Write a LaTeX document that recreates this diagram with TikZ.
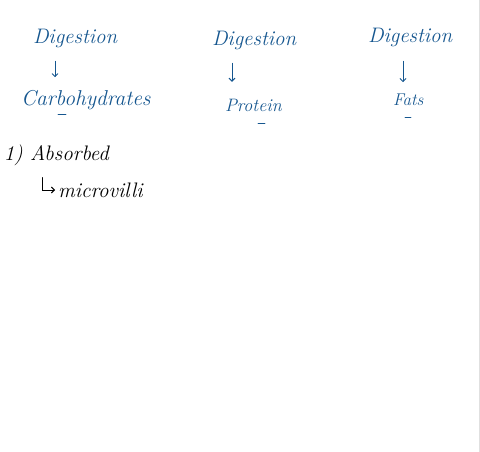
\documentclass[tikz,border=0pt]{standalone}
\usepackage{tikz}
\usetikzlibrary{arrows.meta}
\definecolor{penblue}{HTML}{15568F}
\tikzstyle{note}=[inner sep=0, outer sep=0, anchor=west, font=\fontsize{21}{24}\selectfont\itshape]
\tikzstyle{bluenote}=[note, text=penblue, font=\fontsize{21}{25}\selectfont\itshape]
\tikzstyle{pen}=[line width=0.9pt, line cap=round]
\tikzstyle{penarrow}=[pen, -{Straight Barb[length=3pt,width=6pt]}]

\begin{document}
\begin{tikzpicture}[x=1pt, y=-1pt]
    \useasboundingbox (0,0) rectangle (480,452);
    \draw[black!12] (479,0) -- (479,452);
    % headings
    \node[bluenote] (dig1) at (33,38) {Digestion};
    \node[bluenote] (dig2) at (212,40) {Digestion};
    \node[bluenote] (dig3) at (368,37) {Digestion};
    \node[bluenote, font=\fontsize{21.5}{25}\selectfont\itshape] (carb) at (21,100) {Carbohydrates};
    \node[bluenote, font=\fontsize{18}{22}\selectfont\itshape] (prot) at (225,105) {Protein};
    \node[bluenote, font=\fontsize{17}{20}\selectfont\itshape] (fats) at (393,100) {Fats};
    \coordinate (a1) at (55,0);
    \coordinate (a2) at (232,0);
    \coordinate (a3) at (403,0);
    \draw[penarrow, penblue, shorten <=14pt, shorten >=13pt] (dig1.south -| a1) -- (carb.north -| a1);
    \draw[penarrow, penblue, shorten <=14pt, shorten >=17pt] (dig2.south -| a2) -- (prot.north -| a2);
    \draw[penarrow, penblue, shorten <=15pt, shorten >=12pt] (dig3.south -| a3) -- (fats.north -| a3);
    \draw[pen, penblue] (58,114) -- (66,114);
    \draw[pen, penblue] (258,123) -- (265,123);
    \draw[pen, penblue] (405,117) -- (411,117);
    % absorption
    \node[note] (abs) at (4,155) {1) Absorbed};
    \node[note] (micro) at (58,190) {microvilli};
    \coordinate (h1) at (42,0);
    \draw[penarrow, shorten <=12pt, shorten >=3pt] (abs.south -| h1) |- (micro.west);
\end{tikzpicture}
\end{document}
